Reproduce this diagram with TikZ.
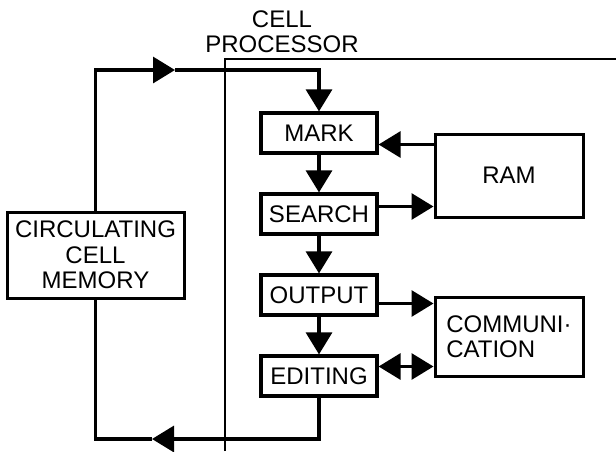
\documentclass[tikz,border=0pt]{standalone}
\usepackage{fontspec}
\setmainfont{Liberation Sans}
\usetikzlibrary{arrows.meta}

\begin{document}
\begin{tikzpicture}[x=0.5pt, y=-0.5pt,
            font=\fontsize{12}{12.7}\selectfont,
            box/.style={draw, line width=1.6pt, inner sep=0, minimum width=58pt, minimum height=20pt},
            bigbox/.style={draw, line width=1.5pt, inner sep=0, minimum width=74pt, align=center},
            flow/.style={line width=1.6pt},
            arr/.style={flow, -{Triangle[length=11pt, width=13pt]}},
            both/.style={flow, {Triangle[length=11pt, width=13pt]}-{Triangle[length=11pt, width=13pt]}},
            node distance=40.5pt]
        \useasboundingbox (0,0) rectangle (616,451);

        % processor stack
        \node (mark) [box] at (319,133) {MARK};
        \node (search) [box, below of=mark] {SEARCH};
        \node (output) [box, below of=search] {OUTPUT};
        \node (editing) [box, below of=output] {EDITING};

        \node (ccm) [bigbox, minimum width=88.5pt, minimum height=43pt] at (95.5,255) {CIRCULATING\\CELL\\MEMORY};
        \node (ram) [bigbox, minimum height=41.5pt] at (509,175.5) {RAM};
        \node (comm) [bigbox, minimum height=39.5pt, align=left] at (509,336.5) {COMMUNI·\\CATION};

        \node (cellproc) [align=center] at (282,32) {CELL\\PROCESSOR};

        % boundary of the cell processor
        \coordinate (pbot) at (225,451);
        \coordinate (pcorner) at (225,59);
        \coordinate (pend) at (616,59);
        \draw [line width=1.1pt] (pbot) -- (pcorner) -- (pend);

        \draw [arr] (mark) -- (search);
        \draw [arr] (search) -- (output);
        \draw [arr] (output) -- (editing);

        % side units
        \coordinate (r1) at ([yshift=-6pt]ram.north west);
        \coordinate (r2) at ([yshift=6pt]ram.south west);
        \coordinate (c1) at ([yshift=-4pt]comm.north west);
        \coordinate (c2) at ([yshift=5.5pt]comm.south west);
        \draw [arr] (r1) -- (r1 -| mark.east);
        \draw [arr] (r2 -| search.east) -- (r2);
        \draw [arr] (c1 -| output.east) -- (c1);
        \draw [both] (c2 -| editing.east) -- (c2);

        % circulation loop
        \coordinate (topmid) at (175,70);
        \coordinate (botmid) at (152,439);
        \draw [arr] (ccm.north) |- (topmid);
        \draw [arr] (topmid) -| (mark.north);
        \draw [arr] (editing.south) |- (botmid);
        \draw [flow] (botmid) -| (ccm.south);
\end{tikzpicture}
\end{document}
